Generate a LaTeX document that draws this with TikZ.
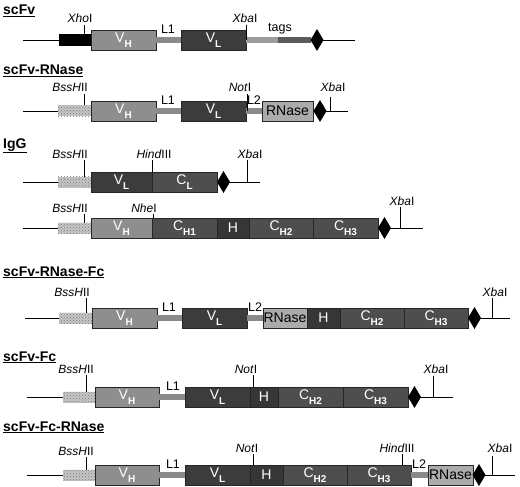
\documentclass[tikz,border=0pt]{standalone}
\usepackage{fontspec}
\setmainfont{Liberation Sans}
\usetikzlibrary{patterns,shapes.geometric}
\definecolor{cVH}{HTML}{8E8E8E}
\definecolor{cVL}{HTML}{3C3C3C}
\definecolor{cC}{HTML}{4E4E4E}
\definecolor{cHg}{HTML}{363636}
\definecolor{cRN}{HTML}{ABABAB}
\definecolor{cLk}{HTML}{8A8A8A}
\definecolor{cTagA}{HTML}{9C9C9C}
\definecolor{cTagB}{HTML}{5A5A5A}
\newcommand\sub[1]{\raisebox{-4.5pt}{\fontsize{10}{10}\selectfont\bfseries #1}}
\newcommand\gbox[6]{\node[#5, minimum width=#3-#2] (#1) at (#2,#4) {#6};}
\tikzset{
  box/.style={draw=black!85, line width=0.6pt, minimum height=20, inner sep=0, outer sep=0, anchor=west, text=white, font=\fontsize{14}{14}\selectfont},
  vh/.style={box, fill=cVH},
  vl/.style={box, fill=cVL},
  cdom/.style={box, fill=cC},
  hinge/.style={box, fill=cHg},
  rnase/.style={box, fill=cRN, text=black, font=\fontsize{14}{14}\selectfont},
  sig/.style={preaction={fill=gray!45}, pattern=crosshatch dots, pattern color=gray!95!black, minimum height=11, inner sep=0, outer sep=0, anchor=west},
  lead/.style={fill=black, minimum height=12, inner sep=0, outer sep=0, anchor=west},
  linker/.style={line width=6pt, draw=cLk},
  dia/.style={diamond, fill=black, minimum width=13, minimum height=22, inner sep=0, outer sep=0},
  backbone/.style={line width=0.9pt, draw=black},
  tickl/.style={line width=0.9pt, draw=black},
  site/.style={font=\fontsize{12}{12}\selectfont, inner sep=0, anchor=base},
  title/.style={font=\fontsize{14}{14}\selectfont\bfseries, inner sep=0, anchor=base west},
  lab/.style={font=\fontsize{12.5}{12.5}\selectfont, inner sep=0, anchor=base},
}
\begin{document}
\begin{tikzpicture}[x=1pt,y=-1pt]
\useasboundingbox (0,0) rectangle (520,487);
% ===== Row 1: scFv =====
\node[title] (T1) at (3,15) {\underline{scFv}};
\coordinate (s1) at (23,40); \coordinate (e1) at (355,40);
\draw[backbone] (s1) -- (e1);
\gbox{r1ld}{59}{91}{40}{lead}{}
\gbox{r1vh}{91}{156}{40}{vh}{V\sub{H}}
\gbox{r1vl}{181}{246}{40}{vl}{V\sub{L}}
\node[dia] (r1d) at (317,40) {};
\draw[linker] (r1vh.east) -- (r1vl.west);
\coordinate (r1tg) at (278,40);
\draw[line width=6pt, draw=cTagA] (r1vl.east) -- (r1tg);
\draw[line width=6pt, draw=cTagB] (r1tg) -- (r1d.west);
\node[lab] (r1L1) at (168,34) {L1};
\node[lab] (r1tags) at (280,32) {tags};
\node[site] (r1xho) at (80,23) {\textit{Xho}I};
\coordinate (r1xa) at (84,25); \coordinate (r1xb) at (84,34);
\draw[tickl] (r1xa) -- (r1xb);
\node[site] (r1xba) at (245,23) {\textit{Xba}I};
\coordinate (r1ba) at (246,25); \coordinate (r1bb) at (246,40);
\draw[tickl] (r1ba) -- (r1bb);
% ===== Row 2: scFv-RNase =====
\node[title] (T2) at (3,75) {\underline{scFv-RNase}};
\coordinate (s2) at (23,111); \coordinate (e2) at (348,111);
\draw[backbone] (s2) -- (e2);
\gbox{r2sg}{58}{91}{111}{sig}{}
\gbox{r2vh}{91}{156}{111}{vh}{V\sub{H}}
\gbox{r2vl}{181}{246}{111}{vl}{V\sub{L}}
\gbox{r2rn}{262}{313}{111}{rnase}{RNase}
\node[dia] (r2d) at (320,111) {};
\draw[linker] (r2vh.east) -- (r2vl.west);
\draw[linker] (r2vl.east) -- (r2rn.west);
\node[lab] (r2L1) at (168,105) {L1};
\node[lab] (r2L2) at (254,105) {L2};
\node[site] (r2bss) at (70,92) {\textit{BssH}II};
\coordinate (r2sa) at (84,94); \coordinate (r2sb) at (84,105.5);
\draw[tickl] (r2sa) -- (r2sb);
\node[site] (r2not) at (240,92) {\textit{Not}I};
\coordinate (r2na) at (247,94); \coordinate (r2nb) at (247,111);
\draw[tickl] (r2na) -- (r2nb);
\node[site] (r2xba) at (333,92) {\textit{Xba}I};
\coordinate (r2ba) at (330,97); \coordinate (r2bb) at (330,111);
\draw[tickl] (r2ba) -- (r2bb);
% ===== Row 3: IgG light chain =====
\node[title] (T3) at (3,148) {\underline{IgG}};
\coordinate (s3) at (23,182); \coordinate (e3) at (260,182);
\draw[backbone] (s3) -- (e3);
\gbox{r3sg}{58}{91}{182}{sig}{}
\gbox{r3vl}{91}{152}{182}{vl}{V\sub{L}}
\gbox{r3cl}{152}{217}{182}{cdom}{C\sub{L}}
\node[dia] (r3d) at (223.5,182) {};
\node[site] (r3bss) at (70,158) {\textit{BssH}II};
\coordinate (r3sa) at (84,160); \coordinate (r3sb) at (84,176.5);
\draw[tickl] (r3sa) -- (r3sb);
\node[site] (r3hin) at (154,158) {\textit{Hind}III};
\coordinate (r3ha) at (152,160); \coordinate (r3hb) at (152,172);
\draw[tickl] (r3ha) -- (r3hb);
\node[site] (r3xba) at (250,158) {\textit{Xba}I};
\coordinate (r3ba) at (247,160); \coordinate (r3bb) at (247,182);
\draw[tickl] (r3ba) -- (r3bb);
% ===== Row 4: IgG heavy chain =====
\coordinate (s4) at (23,228); \coordinate (e4) at (423,228);
\draw[backbone] (s4) -- (e4);
\gbox{r4sg}{58}{91}{228}{sig}{}
\gbox{r4vh}{91}{152}{228}{vh}{V\sub{H}}
\gbox{r4c1}{152}{217}{228}{cdom}{C\sub{H1}}
\gbox{r4h}{217}{249}{228}{hinge}{H}
\gbox{r4c2}{249}{313}{228}{cdom}{C\sub{H2}}
\gbox{r4c3}{313}{378}{228}{cdom}{C\sub{H3}}
\node[dia] (r4d) at (384.5,228) {};
\node[site] (r4bss) at (70,212) {\textit{BssH}II};
\coordinate (r4sa) at (84,214); \coordinate (r4sb) at (84,222.5);
\draw[tickl] (r4sa) -- (r4sb);
\node[site] (r4nhe) at (144,212) {\textit{Nhe}I};
\coordinate (r4na) at (153,214); \coordinate (r4nb) at (153,218);
\draw[tickl] (r4na) -- (r4nb);
\node[site] (r4xba) at (402,205) {\textit{Xba}I};
\coordinate (r4ba) at (400,207); \coordinate (r4bb) at (400,228);
\draw[tickl] (r4ba) -- (r4bb);
% ===== Row 5: scFv-RNase-Fc =====
\node[title] (T5) at (3,276) {\underline{scFv-RNase-Fc}};
\coordinate (s5) at (25,318); \coordinate (e5) at (510,318);
\draw[backbone] (s5) -- (e5);
\gbox{r5sg}{59}{92}{318}{sig}{}
\gbox{r5vh}{92}{157}{318}{vh}{V\sub{H}}
\gbox{r5vl}{182}{247}{318}{vl}{V\sub{L}}
\gbox{r5rn}{263}{307}{318}{rnase}{RNase}
\gbox{r5h}{307}{340}{318}{hinge}{H}
\gbox{r5c2}{340}{404}{318}{cdom}{C\sub{H2}}
\gbox{r5c3}{404}{468}{318}{cdom}{C\sub{H3}}
\node[dia] (r5d) at (474.5,318) {};
\draw[linker] (r5vh.east) -- (r5vl.west);
\draw[linker] (r5vl.east) -- (r5rn.west);
\node[lab] (r5L1) at (169,311) {L1};
\node[lab] (r5L2) at (255,311) {L2};
\node[site] (r5bss) at (72,296) {\textit{BssH}II};
\coordinate (r5sa) at (86,298); \coordinate (r5sb) at (86,312.5);
\draw[tickl] (r5sa) -- (r5sb);
\node[site] (r5xba) at (495,296) {\textit{Xba}I};
\coordinate (r5ba) at (492,298); \coordinate (r5bb) at (492,318);
\draw[tickl] (r5ba) -- (r5bb);
% ===== Row 6: scFv-Fc =====
\node[title] (T6) at (3,361) {\underline{scFv-Fc}};
\coordinate (s6) at (27,397); \coordinate (e6) at (453,397);
\draw[backbone] (s6) -- (e6);
\gbox{r6sg}{63}{95}{397}{sig}{}
\gbox{r6vh}{95}{159}{397}{vh}{V\sub{H}}
\gbox{r6vl}{185}{250}{397}{vl}{V\sub{L}}
\gbox{r6h}{250}{278}{397}{hinge}{H}
\gbox{r6c2}{278}{343}{397}{cdom}{C\sub{H2}}
\gbox{r6c3}{343}{408}{397}{cdom}{C\sub{H3}}
\node[dia] (r6d) at (414.5,397) {};
\draw[linker] (r6vh.east) -- (r6vl.west);
\node[lab] (r6L1) at (173,390) {L1};
\node[site] (r6bss) at (76,373) {\textit{BssH}II};
\coordinate (r6sa) at (86,375); \coordinate (r6sb) at (86,391.5);
\draw[tickl] (r6sa) -- (r6sb);
\node[site] (r6not) at (246,373) {\textit{Not}I};
\coordinate (r6na) at (253,375); \coordinate (r6nb) at (253,387);
\draw[tickl] (r6na) -- (r6nb);
\node[site] (r6xba) at (436,373) {\textit{Xba}I};
\coordinate (r6ba) at (433,376); \coordinate (r6bb) at (433,397);
\draw[tickl] (r6ba) -- (r6bb);
% ===== Row 7: scFv-Fc-RNase =====
\node[title] (T7) at (3,431) {\underline{scFv-Fc-RNase}};
\coordinate (s7) at (27,475); \coordinate (e7) at (515,475);
\draw[backbone] (s7) -- (e7);
\gbox{r7sg}{63}{95}{475}{sig}{}
\gbox{r7vh}{95}{159}{475}{vh}{V\sub{H}}
\gbox{r7vl}{185}{250}{475}{vl}{V\sub{L}}
\gbox{r7h}{250}{283}{475}{hinge}{H}
\gbox{r7c2}{283}{347}{475}{cdom}{C\sub{H2}}
\gbox{r7c3}{347}{411}{475}{cdom}{C\sub{H3}}
\gbox{r7rn}{428}{473}{475}{rnase}{RNase}
\node[dia] (r7d) at (479,475) {};
\draw[linker] (r7vh.east) -- (r7vl.west);
\draw[linker] (r7c3.east) -- (r7rn.west);
\node[lab] (r7L1) at (173,468) {L1};
\node[lab] (r7L2) at (419,468) {L2};
\node[site] (r7bss) at (76,455) {\textit{BssH}II};
\coordinate (r7sa) at (86,457); \coordinate (r7sb) at (86,469.5);
\draw[tickl] (r7sa) -- (r7sb);
\node[site] (r7not) at (247,452) {\textit{Not}I};
\coordinate (r7na) at (253,454); \coordinate (r7nb) at (253,465);
\draw[tickl] (r7na) -- (r7nb);
\node[site] (r7hin) at (397,452) {\textit{Hind}III};
\coordinate (r7ha) at (402,454); \coordinate (r7hb) at (402,465);
\draw[tickl] (r7ha) -- (r7hb);
\node[site] (r7xba) at (500,452) {\textit{Xba}I};
\coordinate (r7ba) at (492,456); \coordinate (r7bb) at (492,475);
\draw[tickl] (r7ba) -- (r7bb);
\end{tikzpicture}
\end{document}
